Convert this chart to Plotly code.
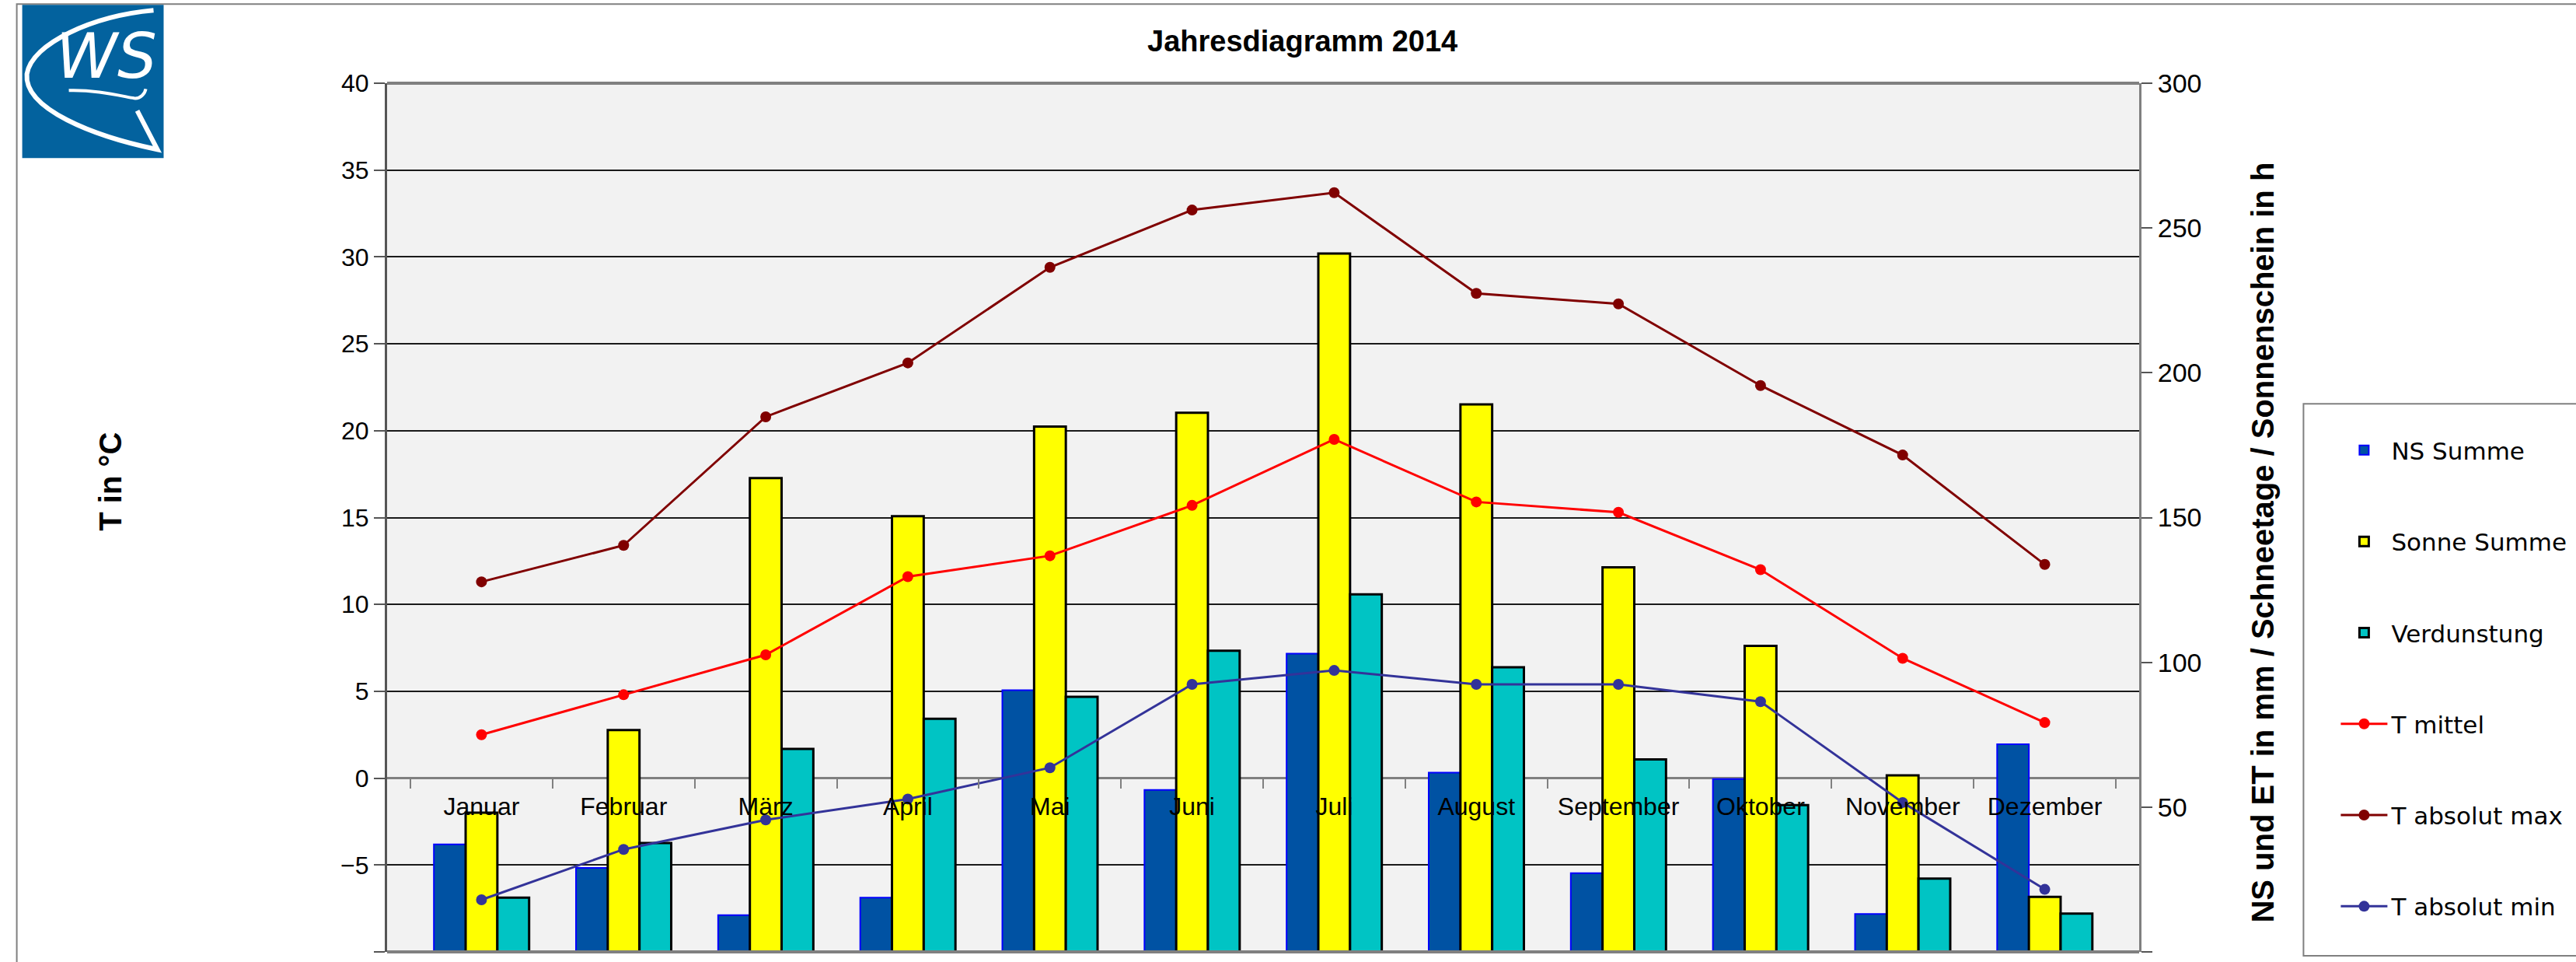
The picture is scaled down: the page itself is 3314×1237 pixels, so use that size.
import plotly.graph_objects as go

months = ["Januar", "Februar", "März", "April", "Mai", "Juni", "Juli",
          "August", "September", "Oktober", "November", "Dezember"]
ns_summe = [37.1, 29.0, 12.7, 18.7, 90.4, 55.9, 103.0, 61.9, 27.2, 59.7, 13.1, 71.7]
sonne_summe = [48.1, 76.6, 163.6, 150.5, 181.4, 186.2, 241.2, 189.1, 132.8, 105.7, 61.0, 19.0]
verdunstung = [18.7, 37.6, 70.1, 80.5, 88.1, 104.0, 123.5, 98.3, 66.5, 50.7, 25.3, 13.2]
t_mittel = [2.5, 4.8, 7.1, 11.6, 12.8, 15.7, 19.5, 15.9, 15.3, 12.0, 6.9, 3.2]
t_max = [11.3, 13.4, 20.8, 23.9, 29.4, 32.7, 33.7, 27.9, 27.3, 22.6, 18.6, 12.3]
t_min = [-7.0, -4.1, -2.4, -1.2, 0.6, 5.4, 6.2, 5.4, 5.4, 4.4, -1.4, -6.4]

W, H = 3314, 1237
L, R, T, B = 497.6, 2752.5, 106.7, 1224.0


def px(x):
    return (x - L) / (R - L)


def py(y):
    return (B - y) / (B - T)


fig = go.Figure()

bar_specs = [
    ("NS Summe", ns_summe, "#0052A3", "#0000FF", 2),
    ("Sonne Summe", sonne_summe, "#FFFF00", "#000000", 3),
    ("Verdunstung", verdunstung, "#00C4C4", "#000000", 3),
]
for name, vals, col, lcol, lw in bar_specs:
    fig.add_trace(go.Bar(
        x=months, y=vals, name=name, yaxis="y", legendgroup=name,
        marker=dict(color=col, line=dict(color=lcol, width=lw)),
    ))

line_specs = [
    ("T mittel", t_mittel, "#FF0000"),
    ("T absolut max", t_max, "#800000"),
    ("T absolut min", t_min, "#333399"),
]
for name, vals, col in line_specs:
    fig.add_trace(go.Scatter(
        x=months, y=vals, name=name, yaxis="y2", legendgroup=name,
        mode="lines+markers",
        line=dict(color=col, width=3),
        marker=dict(color=col, size=14),
    ))

shapes = [
    # outer frame
    dict(type="rect", xref="paper", yref="paper", x0=px(21), y0=py(1260), x1=px(3340), y1=py(5),
         line=dict(color="#808080", width=2), fillcolor="rgba(0,0,0,0)", layer="below"),
    # legend box
    dict(type="rect", xref="paper", yref="paper", x0=px(2964), y0=py(1229), x1=px(3340), y1=py(519),
         line=dict(color="#808080", width=2), fillcolor="#FFFFFF", layer="below"),
    # top and bottom plot border
    dict(type="line", xref="paper", yref="paper", x0=0, x1=1, y0=1, y1=1,
         line=dict(color="#808080", width=4)),
    dict(type="line", xref="paper", yref="paper", x0=0, x1=1, y0=0, y1=0,
         line=dict(color="#808080", width=4)),
    # logo
    dict(type="rect", xref="paper", yref="paper", x0=px(28), y0=py(203), x1=px(210), y1=py(6),
         line=dict(width=0), fillcolor="#03629E", layer="above"),
    dict(type="path", xref="paper", yref="paper",
         path=("M {},{} C {},{} {},{} {},{} C {},{} {},{} {},{} L {},{}".format(
             px(197), py(13), px(120), py(20), px(40), py(55), px(34), py(95),
             px(30), py(140), px(120), py(175), px(202), py(192), px(176), py(142))),
         line=dict(color="#FFFFFF", width=6), layer="above"),
    dict(type="path", xref="paper", yref="paper",
         path=("M {},{} C {},{} {},{} {},{} C {},{} {},{} {},{}".format(
             px(88), py(116), px(120), py(115), px(150), py(122), px(172), py(126),
             px(180), py(127), px(186), py(120), px(187), py(114))),
         line=dict(color="#FFFFFF", width=4), layer="above"),
]

annotations = [
    dict(text="<b>Jahresdiagramm 2014</b>", xref="paper", yref="paper",
         x=px(1676), y=py(53), showarrow=False, xanchor="center", yanchor="middle",
         font=dict(size=38, color="#000000")),
    dict(text="<b>T in °C</b>", xref="paper", yref="paper",
         x=px(142), y=py(619), showarrow=False, textangle=-90,
         xanchor="center", yanchor="middle", font=dict(size=40, color="#000000")),
    dict(text="<b>NS und ET in mm / Schneetage / Sonnenschein in h</b>", xref="paper", yref="paper",
         x=px(2912), y=py(697), showarrow=False, textangle=-90,
         xanchor="center", yanchor="middle", font=dict(size=40, color="#000000")),
    dict(text="<i>WS</i>", xref="paper", yref="paper",
         x=px(136), y=py(72), showarrow=False, xanchor="center", yanchor="middle",
         font=dict(size=80, color="#FFFFFF", family="DejaVu Sans")),
]

fig.update_layout(
    width=W, height=H,
    margin=dict(l=L, r=W - R, t=T, b=H - B, autoexpand=False),
    paper_bgcolor="#FFFFFF",
    plot_bgcolor="#F2F2F2",
    font=dict(family="Liberation Sans, Arial, sans-serif", color="#000000", size=32),
    barmode="group", bargap=0.33, bargroupgap=0.0,
    showlegend=True,
    legend=dict(x=px(3007), y=py(552), xanchor="left", yanchor="top",
                bgcolor="rgba(0,0,0,0)", borderwidth=0,
                font=dict(size=31, family="DejaVu Sans, sans-serif"),
                tracegroupgap=74, itemwidth=60, traceorder="grouped"),
    xaxis=dict(
        type="category", anchor="free", position=0.2,
        showline=False, showgrid=False, zeroline=False,
        ticks="outside", tickson="boundaries", ticklen=12, tickcolor="#808080", tickwidth=2,
        ticklabelstandoff=14,
        tickfont=dict(size=32, family="Liberation Sans, Arial, sans-serif"),
    ),
    yaxis=dict(
        range=[0, 300], dtick=50, side="right", anchor="x",
        showgrid=False, zeroline=False,
        showline=True, linecolor="#808080", linewidth=3,
        ticks="outside", ticklen=14, tickcolor="#555555", tickwidth=2,
        tickfont=dict(size=34),
    ),
    yaxis2=dict(
        range=[-10, 40], dtick=5, side="left", overlaying="y", anchor="x",
        showgrid=True, gridcolor="#1A1A1A", gridwidth=1.5,
        zeroline=True, zerolinecolor="#808080", zerolinewidth=3,
        showline=True, linecolor="#555555", linewidth=3,
        ticks="outside", ticklen=14, tickcolor="#555555", tickwidth=2,
        tickfont=dict(size=32),
    ),
    shapes=shapes,
    annotations=annotations,
)

fig.write_html(
    "out.html",
    config={"displayModeBar": False},
    post_script="document.body.style.margin='0';document.body.style.padding='0';"
                "document.body.style.overflow='hidden';",
)
